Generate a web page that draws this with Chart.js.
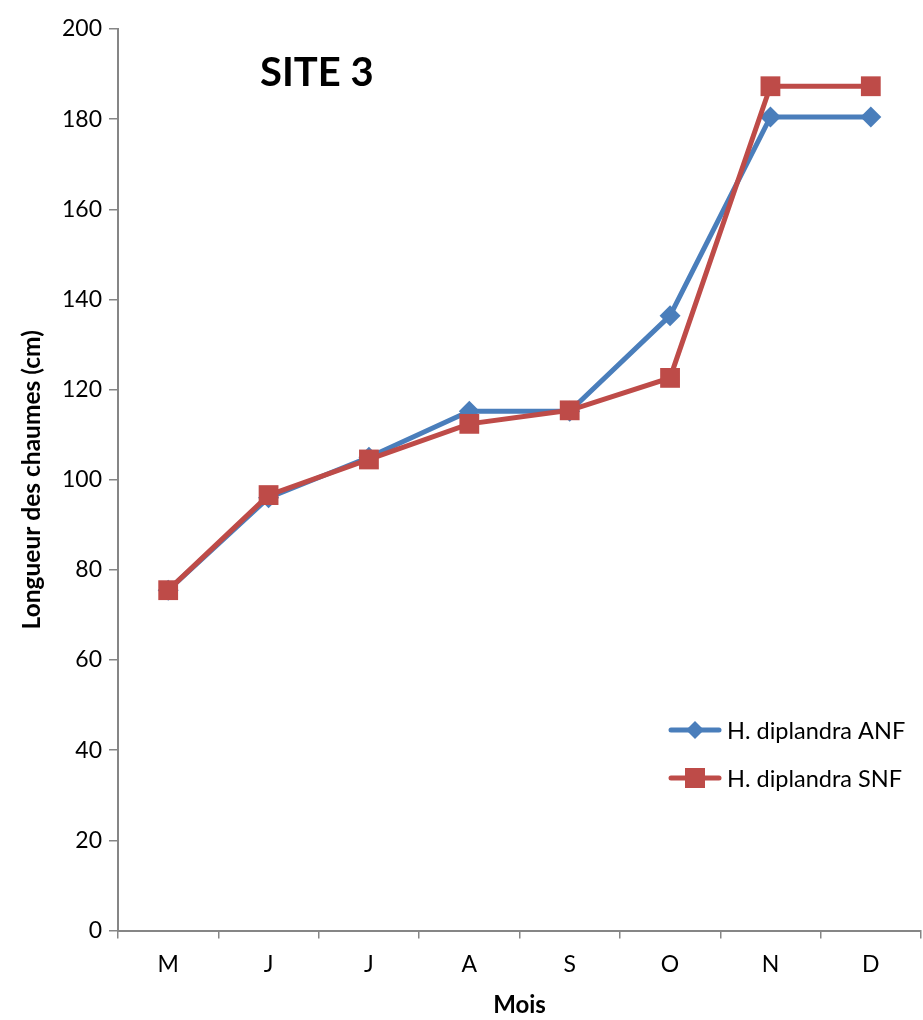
<!DOCTYPE html>
<html>
<head>
<meta charset="utf-8">
<script src="https://cdn.jsdelivr.net/npm/chart.js@4.4.1/dist/chart.umd.min.js"></script>
<style>
  html, body { margin: 0; padding: 0; background: #ffffff; }
  #wrap { width: 923px; height: 1020px; position: relative; }
</style>
</head>
<body>
<div id="wrap"><canvas id="c" width="923" height="1020"></canvas></div>
<script>
// Mois d'observation
const months = ['M', 'J', 'J', 'A', 'S', 'O', 'N', 'D'];
// Longueur des chaumes (cm)
const anf = [75.5, 96, 105, 115.2, 115.2, 136.4, 180.5, 180.5];
const snf = [75.5, 96.6, 104.5, 112.4, 115.4, 122.6, 187.3, 187.3];
const seriesNames = ['H. diplandra ANF', 'H. diplandra SNF'];
const yTicks = [0, 20, 40, 60, 80, 100, 120, 140, 160, 180, 200];

const BLUE = '#4A7EBB';
const RED = '#BE4B48';
const AXIS = '#868686';
const FONT = 'Lato, "Open Sans", sans-serif';

// Title and legend drawn inside the plot area
const overlay = {
  id: 'overlay',
  afterDraw(chart) {
    const ctx = chart.ctx;
    ctx.save();
    ctx.fillStyle = '#000';
    ctx.font = 'bold 40px ' + FONT;
    ctx.textBaseline = 'middle';
    ctx.textAlign = 'left';
    ctx.fillText('SITE 3', 260, 73);

    const rows = [
      { y: 730, color: BLUE, style: 'diamond', text: seriesNames[0] },
      { y: 778, color: RED, style: 'square', text: seriesNames[1] }
    ];
    rows.forEach(r => {
      ctx.strokeStyle = r.color;
      ctx.lineWidth = 5;
      ctx.lineCap = 'round';
      ctx.beginPath();
      ctx.moveTo(671, r.y);
      ctx.lineTo(719, r.y);
      ctx.stroke();
      ctx.fillStyle = r.color;
      ctx.beginPath();
      if (r.style === 'diamond') {
        ctx.moveTo(695, r.y - 9);
        ctx.lineTo(704, r.y);
        ctx.lineTo(695, r.y + 9);
        ctx.lineTo(686, r.y);
        ctx.closePath();
      } else {
        ctx.rect(685, r.y - 10, 20, 20);
      }
      ctx.fill();
      ctx.fillStyle = '#000';
      ctx.font = '23.5px ' + FONT;
      ctx.textAlign = 'left';
      ctx.fillText(r.text, 727, r.y + 1);
    });
    ctx.restore();
  }
};

new Chart(document.getElementById('c'), {
  type: 'line',
  data: {
    labels: months,
    datasets: [
      {
        label: seriesNames[0],
        data: anf,
        borderColor: BLUE,
        backgroundColor: BLUE,
        borderWidth: 5,
        pointStyle: 'rectRot',
        pointRadius: 10.5,
        pointHoverRadius: 10.5,
        pointBorderWidth: 0,
        tension: 0,
        clip: false,
        order: 1
      },
      {
        label: seriesNames[1],
        data: snf,
        borderColor: RED,
        backgroundColor: RED,
        borderWidth: 5,
        pointStyle: 'rect',
        pointRadius: 14,
        pointHoverRadius: 14,
        pointBorderWidth: 0,
        tension: 0,
        clip: false,
        order: 0
      }
    ]
  },
  options: {
    responsive: false,
    animation: false,
    events: [],
    layout: { autoPadding: false, padding: { top: 29, right: 2, left: 0, bottom: 0 } },
    plugins: {
      legend: { display: false },
      tooltip: { enabled: false }
    },
    scales: {
      x: {
        type: 'category',
        offset: true,
        afterFit(scale) {
          scale.height = 89.5;
          scale.paddingLeft = 0;
          scale.paddingRight = 0;
        },
        grid: {
          offset: true,
          drawOnChartArea: false,
          drawTicks: true,
          tickLength: 8,
          color: AXIS,
          lineWidth: 1.5
        },
        border: { color: AXIS, width: 2 },
        ticks: {
          color: '#000',
          font: { family: FONT, size: 23 },
          padding: 12,
          maxRotation: 0,
          autoSkip: false
        },
        title: {
          display: true,
          text: 'Mois',
          color: '#000',
          font: { family: FONT, size: 24, weight: 'bold' },
          padding: { top: 0, bottom: 0 }
        }
      },
      y: {
        min: 0,
        max: 200,
        afterBuildTicks(scale) {
          scale.ticks = yTicks.map(v => ({ value: v }));
        },
        afterFit(scale) { scale.width = 118; },
        grid: {
          drawOnChartArea: false,
          drawTicks: true,
          tickLength: 9,
          color: AXIS,
          lineWidth: 1.5
        },
        border: { color: AXIS, width: 2 },
        ticks: {
          color: '#000',
          font: { family: FONT, size: 23 },
          padding: 7
        },
        title: {
          display: true,
          text: 'Longueur des chaumes (cm)',
          color: '#000',
          font: { family: FONT, size: 24.5, weight: 'bold' },
          padding: { top: 17, bottom: 0 }
        }
      }
    }
  },
  plugins: [overlay]
});
</script>
</body>
</html>
